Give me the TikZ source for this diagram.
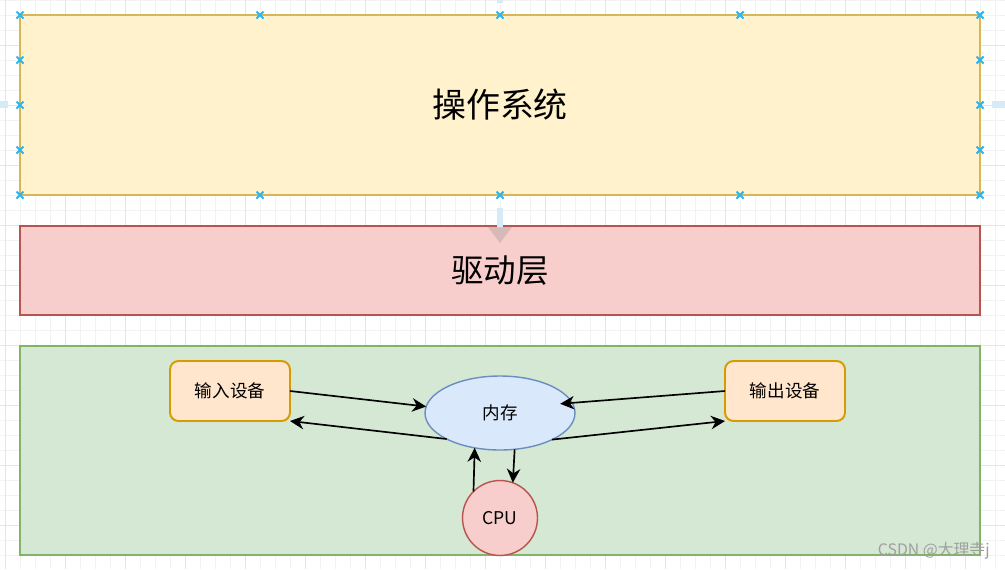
\documentclass[tikz,border=0pt]{standalone}
\usepackage{fontspec}
\setmainfont{Noto Sans CJK SC}
\usetikzlibrary{shapes.geometric,arrows.meta}
\definecolor{osfill}{HTML}{FFF2CC}
\definecolor{osline}{HTML}{D6B656}
\definecolor{drvfill}{HTML}{F8CECC}
\definecolor{drvline}{HTML}{B85450}
\definecolor{hwfill}{HTML}{D5E8D4}
\definecolor{hwline}{HTML}{82B366}
\definecolor{devfill}{HTML}{FFE6CC}
\definecolor{devline}{HTML}{D79B00}
\definecolor{memfill}{HTML}{DAE8FC}
\definecolor{memline}{HTML}{6C8EBF}
\definecolor{handleblue}{HTML}{29B6F2}
\definecolor{guideblue}{HTML}{D6EBF8}

\begin{document}
\begin{tikzpicture}[x=0.02cm, y=-0.02cm,
    layer/.style ={draw, line width=1.1pt, inner sep=0pt, outer sep=0pt, minimum width=19.2cm},
    device/.style ={draw=devline, fill=devfill, line width=1.1pt, rounded corners=0.17cm, minimum width=2.4cm, minimum height=1.2cm, inner sep=0pt, outer sep=0pt, font=\fontsize{10}{12}\selectfont},
    memory/.style ={ellipse, draw=memline, fill=memfill, line width=0.8pt, minimum width=3cm, minimum height=1.48cm, inner sep=0pt, outer sep=0pt, font=\fontsize{10}{12}\selectfont},
    processor/.style ={circle, draw=drvline, fill=drvfill, line width=0.8pt, minimum size=1.5cm, inner sep=0pt, outer sep=0pt, font=\fontsize{10}{12}\selectfont},
    link/.style ={line width=0.95pt, -{Stealth[length=0.28cm, width=0.27cm, inset=0.09cm]}},
    handle/.style ={draw=handleblue, line width=1.2pt}]
   \useasboundingbox (0,0) rectangle (1005,569);
   \fill[white] (0,0) rectangle (1005,569);

   % grid
   \foreach \gx in {5,20,...,1000} \draw[gray!10, line width=0.5pt] (\gx,0) -- (\gx,569);
   \foreach \gy in {0,15,...,565} \draw[gray!10, line width=0.5pt] (0,\gy) -- (1005,\gy);
   \foreach \gx in {5,65,...,965} \draw[gray!20, line width=0.5pt] (\gx,0) -- (\gx,569);
   \foreach \gy in {45,105,...,525} \draw[gray!20, line width=0.5pt] (0,\gy) -- (1005,\gy);

   \node[layer, draw=osline, fill=osfill, minimum height=3.6cm, font=\fontsize{19.3}{23}\selectfont] (os) at (500,105) {操作系统};
   \node[layer, draw=drvline, fill=drvfill, minimum height=1.78cm, font=\fontsize{18.5}{22}\selectfont] (drv) at (500,270.5) {驱动层};
   \node[layer, draw=hwline, fill=hwfill, minimum height=4.18cm] (hw) at (500,450.5) {};

   \node[device] (in) at (230,391) {输入设备};
   \node[device] (out) at (785,391) {输出设备};
   \node[memory] (mem) at (500,413) {内存};
   \node[processor] (cpu) at (500,518) {CPU};

   \draw[link] (in.east) to (mem.175);
   \draw[link] (mem.206) to (in.south east);
   \draw[link, shorten >=-0.24cm] (out.west) to (mem.8);
   \draw[link] (mem.333) to (out.south west);
   \draw[link] (mem.292) to (cpu.70);
   \draw[link] (cpu.135) to (mem.234);

   % editor marks
   \foreach \mx in {20,260,500,740,980} {
     \draw[handle] (\mx,15) +(-3.5,-3.5) -- +(3.5,3.5) +(-3.5,3.5) -- +(3.5,-3.5);
     \draw[handle] (\mx,195) +(-3.5,-3.5) -- +(3.5,3.5) +(-3.5,3.5) -- +(3.5,-3.5);
   }
   \foreach \my in {60,105,150} {
     \draw[handle] (20,\my) +(-3.5,-3.5) -- +(3.5,3.5) +(-3.5,3.5) -- +(3.5,-3.5);
     \draw[handle] (980,\my) +(-3.5,-3.5) -- +(3.5,3.5) +(-3.5,3.5) -- +(3.5,-3.5);
   }
   \fill[guideblue] (0,101) rectangle (8,108);
   \fill[guideblue] (992,101) rectangle (1005,108);
   \fill[guideblue] (497,0) rectangle (503,3);
   \fill[guideblue] (497,208) rectangle (503,228);
   \fill[black!45, opacity=0.3] (488,227) -- (512,227) -- (500,243) -- cycle;

   \node[font=\fontsize{9}{11}\selectfont, text=gray!75, inner sep=0pt, anchor=east] (mark) at (990,551) {CSDN @大理寺j};
\end{tikzpicture}
\end{document}
